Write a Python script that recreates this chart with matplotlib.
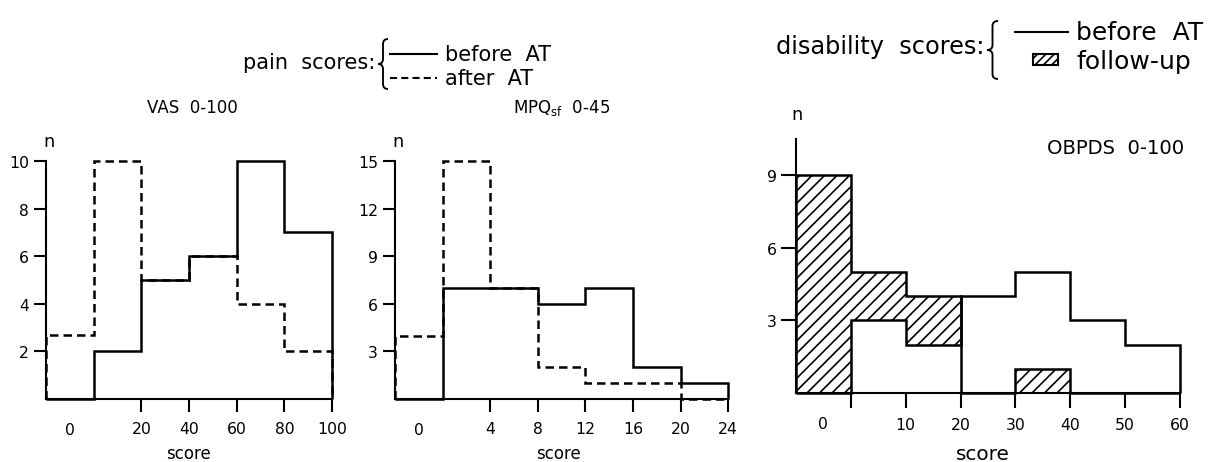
import numpy as np
import matplotlib
matplotlib.use('Agg')
import matplotlib.pyplot as plt
from matplotlib.lines import Line2D
from matplotlib.patches import Rectangle, PathPatch
from matplotlib.path import Path

W, H = 1224, 463
DPI = 150

plt.rcParams['font.family'] = ['DejaVu Sans']
plt.rcParams['mathtext.fontset'] = 'dejavusans'
plt.rcParams['hatch.linewidth'] = 0.8

# VAS 0-100 (pain)
vas_edges = [-20, 0, 20, 40, 60, 80, 100]
vas_before = [0, 2, 5, 6, 10, 7]
vas_after = [2.7, 10, 5, 6, 4, 2]
vas_ticks = [20, 40, 60, 80, 100]
vas_yticks = [2, 4, 6, 8, 10]

# MPQ sf 0-45 (pain)
mpq_edges = [-4, 0, 4, 8, 12, 16, 20, 24]
mpq_before = [0, 7, 7, 6, 7, 2, 1]
mpq_after = [4, 15, 7, 2, 1, 1, 0]
mpq_ticks = [4, 8, 12, 16, 20, 24]
mpq_yticks = [3, 6, 9, 12, 15]

# OBPDS 0-100 (disability)
obp_edges = [-10, 0, 10, 20, 30, 40, 50, 60]
obp_before = [0, 3, 2, 4, 5, 3, 2]
obp_follow = [9, 5, 4, 0, 1, 0, 0]
obp_ticks = [0, 10, 20, 30, 40, 50, 60]
obp_yticks = [3, 6, 9]

LW = 1.2
DASH = (0, (3.4, 2.0))
fig = plt.figure(figsize=(W / DPI, H / DPI), dpi=DPI)


def px_axes(x0, x1, y_top, y_bot):
    # box given in pixels, y measured from the top
    return fig.add_axes([x0 / W, 1 - y_bot / H, (x1 - x0) / W, (y_bot - y_top) / H])


def ftext(x, y, s, size, **kw):
    kw.setdefault('ha', 'center')
    kw.setdefault('va', 'center')
    fig.text(x / W, 1 - y / H, s, fontsize=size, **kw)


def style(ax, xlim, ylim, ytop, yticks, ticks, ticklabels, zero_at, tlen=6):
    ax.set_xlim(*xlim)
    ax.set_ylim(*ylim)
    ax.patch.set_alpha(0)
    for s in ['top', 'right']:
        ax.spines[s].set_visible(False)
    for s in ['left', 'bottom']:
        ax.spines[s].set_linewidth(1.0)
    ax.spines['left'].set_bounds(0, ytop)
    ax.spines['bottom'].set_bounds(xlim[0], ticks[-1])
    ax.set_yticks(yticks)
    ax.set_xticks(ticks, ticklabels)
    ax.set_xticks([zero_at], ['0'], minor=True)
    ax.tick_params(axis='both', which='major', direction='out', length=tlen,
                   width=1.0, labelsize=7.5)
    ax.tick_params(axis='x', which='major', pad=4.5)
    ax.tick_params(axis='y', which='major', pad=2.2)
    ax.tick_params(axis='x', which='minor', length=0, pad=11, labelsize=7.5)


# panel 1
ax1 = px_axes(46, 344, 138.2, 400)
ax1.stairs(vas_after, vas_edges, baseline=0, color='k', lw=LW,
           linestyle=DASH, clip_on=False)
ax1.stairs(vas_before, vas_edges, baseline=0, color='k', lw=LW, clip_on=False)
style(ax1, (-20, 105), (0, 11), 10, vas_yticks, vas_ticks,
      [str(t) for t in vas_ticks], -10)

# panel 2
ax2 = px_axes(395, 740, 138.2, 400)
ax2.stairs(mpq_after, mpq_edges, baseline=0, color='k', lw=LW,
           linestyle=DASH, clip_on=False)
ax2.stairs(mpq_before, mpq_edges, baseline=0, color='k', lw=LW, clip_on=False)
style(ax2, (-4, 25), (0, 16.5), 15, mpq_yticks, mpq_ticks,
      [str(t) for t in mpq_ticks], -2)

# panel 3
ax3 = px_axes(796, 1191, 128, 394)
f = np.array(obp_follow)
b = np.array(obp_before)
hatch_base = np.where(f > b, b, 0)
ax3.stairs(f, obp_edges, baseline=hatch_base, fill=True, facecolor='none',
           edgecolor='k', hatch='////', lw=0)
ax3.stairs(obp_follow, obp_edges, baseline=0, color='k', lw=LW, clip_on=False)
ax3.stairs(obp_before, obp_edges, baseline=0, color='k', lw=LW, clip_on=False)
style(ax3, (-10, 62), (0, 11), 10.5, obp_yticks, obp_ticks,
      [''] + [str(t) for t in obp_ticks[1:]], -5, tlen=7)

# axis texts
ftext(49, 142, 'n', 8.5)
ftext(398, 142, 'n', 8.5)
ftext(797, 115, 'n', 8.5)
ftext(192, 108, 'VAS  0-100', 8)
ftext(562, 108, r'MPQ$_{\mathrm{sf}}$  0-45', 8)
ftext(1116, 148, 'OBPDS  0-100', 9.4)
ftext(188, 454, 'score', 8)
ftext(558, 454, 'score', 8)
ftext(983, 455, 'score', 9.6)


def brace(x_tip, x_right, y_top, y_bot, r=5):
    xm = (x_tip + x_right) / 2
    ym = (y_top + y_bot) / 2
    pts = [(x_right, y_top), (xm, y_top), (xm, y_top + r), (xm, ym - r),
           (xm, ym), (x_tip, ym), (xm, ym), (xm, ym + r), (xm, y_bot - r),
           (xm, y_bot), (x_right, y_bot)]
    codes = [Path.MOVETO, Path.CURVE3, Path.CURVE3, Path.LINETO,
             Path.CURVE3, Path.CURVE3, Path.CURVE3, Path.CURVE3, Path.LINETO,
             Path.CURVE3, Path.CURVE3]
    verts = [(x / W, 1 - y / H) for x, y in pts]
    fig.add_artist(PathPatch(Path(verts, codes), transform=fig.transFigure,
                             fill=False, lw=0.9, color='k'))


def fline(x0, x1, y, **kw):
    fig.add_artist(Line2D([x0 / W, x1 / W], [1 - y / H, 1 - y / H],
                          transform=fig.transFigure, color='k', **kw))


# pain legend
ftext(375, 63, 'pain  scores:', 10, ha='right')
brace(378, 388, 40, 90)
fline(390, 437, 55, lw=1.0)
fline(390, 437, 79, lw=1.0, linestyle=DASH)
ftext(445, 55, 'before  AT', 10, ha='left')
ftext(445, 79, 'after  AT', 10, ha='left')

# disability legend
ftext(984, 47, 'disability  scores:', 11.5, ha='right')
brace(987, 998, 22, 80)
fline(1015, 1068, 33, lw=1.0)
fig.add_artist(Rectangle((1033 / W, 1 - 66 / H), 25 / W, 11 / H,
                         transform=fig.transFigure, facecolor='white',
                         edgecolor='k', hatch='//////', lw=1.0))
ftext(1076, 33, 'before  AT', 12, ha='left')
ftext(1076, 62, 'follow-up', 12, ha='left')

fig.savefig('out.png', dpi=DPI)
